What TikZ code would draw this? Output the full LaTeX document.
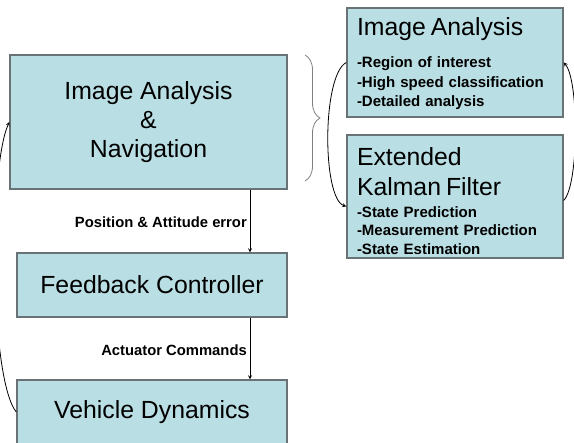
\documentclass[tikz,border=0pt]{standalone}
\usepackage{fontspec}
\setmainfont{Liberation Sans}
\usetikzlibrary{decorations.pathreplacing}

\definecolor{boxfill}{RGB}{185,222,227}
\definecolor{boxline}{RGB}{105,115,117}

\tikzset{
    box/.style={draw=boxline, fill=boxfill, line width=1.4pt, align=center,
        font=\fontsize{24.8}{29}\selectfont},
    panel/.style={box, align=left, text width=196pt, inner xsep=10pt,
        font=\bfseries\fontsize{15}{18.5}\selectfont},
    lbl/.style={anchor=east, inner sep=1pt, font=\bfseries\fontsize{14.8}{16}\selectfont},
    link/.style={-stealth, line width=0.8pt},
}

\begin{document}
\begin{tikzpicture}[x=1pt, y=-1pt]
    \useasboundingbox (0,0) rectangle (574,443);

    % main loop
    \node[box, minimum width=277pt, minimum height=134pt] (nav) at (148.5,122)
        {Image Analysis\\\&\\Navigation};
    \node[box, minimum width=270pt, minimum height=64pt] (ctrl) at (152,285)
        {Feedback Controller};
    \node[box, minimum width=270pt, minimum height=64pt] (veh) at (152,412)
        {Vehicle Dynamics};

    \coordinate (bus) at (250,0);
    \draw[link] (nav.south -| bus) -- (ctrl.north -| bus);
    \draw[link] (ctrl.south -| bus) -- (veh.north -| bus);
    \node[lbl] (err) at (248,222) {Position \& Attitude error};
    \node[lbl] (cmd) at (248,350) {Actuator Commands};

    \draw[link] (veh.west) .. controls (-10,380) and (-12,170) .. (nav.west);

    % detail of the first block
    \draw[gray, line width=0.8pt, decorate, decoration={brace, amplitude=15pt}] (305,55) -- (305,181);

    \node[panel, minimum height=109pt] (ia) at (455,62.5)
        {{\mdseries\fontsize{24.8}{29}\selectfont Image Analysis\rule{0pt}{20pt}}\\[14pt]
         -Region of interest\\[1pt]-High speed classification\\[1pt]-Detailed analysis};
    \node[panel, minimum height=119pt] (ekf) at (455,196.5)
        {{\mdseries\fontsize{24.8}{29}\selectfont Extended\rule{0pt}{27pt}}\\[12pt]
         {\mdseries\fontsize{24.8}{29}\selectfont Kalman Filter}\\[3pt]
         -State Prediction\\-Measurement Prediction\\-State Estimation};

    \draw[link] (ia.west) .. controls (322,75) and (322,198) .. ([yshift=-10pt]ekf.west);
    \draw[link] ([yshift=-4pt]ekf.east) .. controls (579,185) and (579,80) .. (ia.east);
\end{tikzpicture}
\end{document}
